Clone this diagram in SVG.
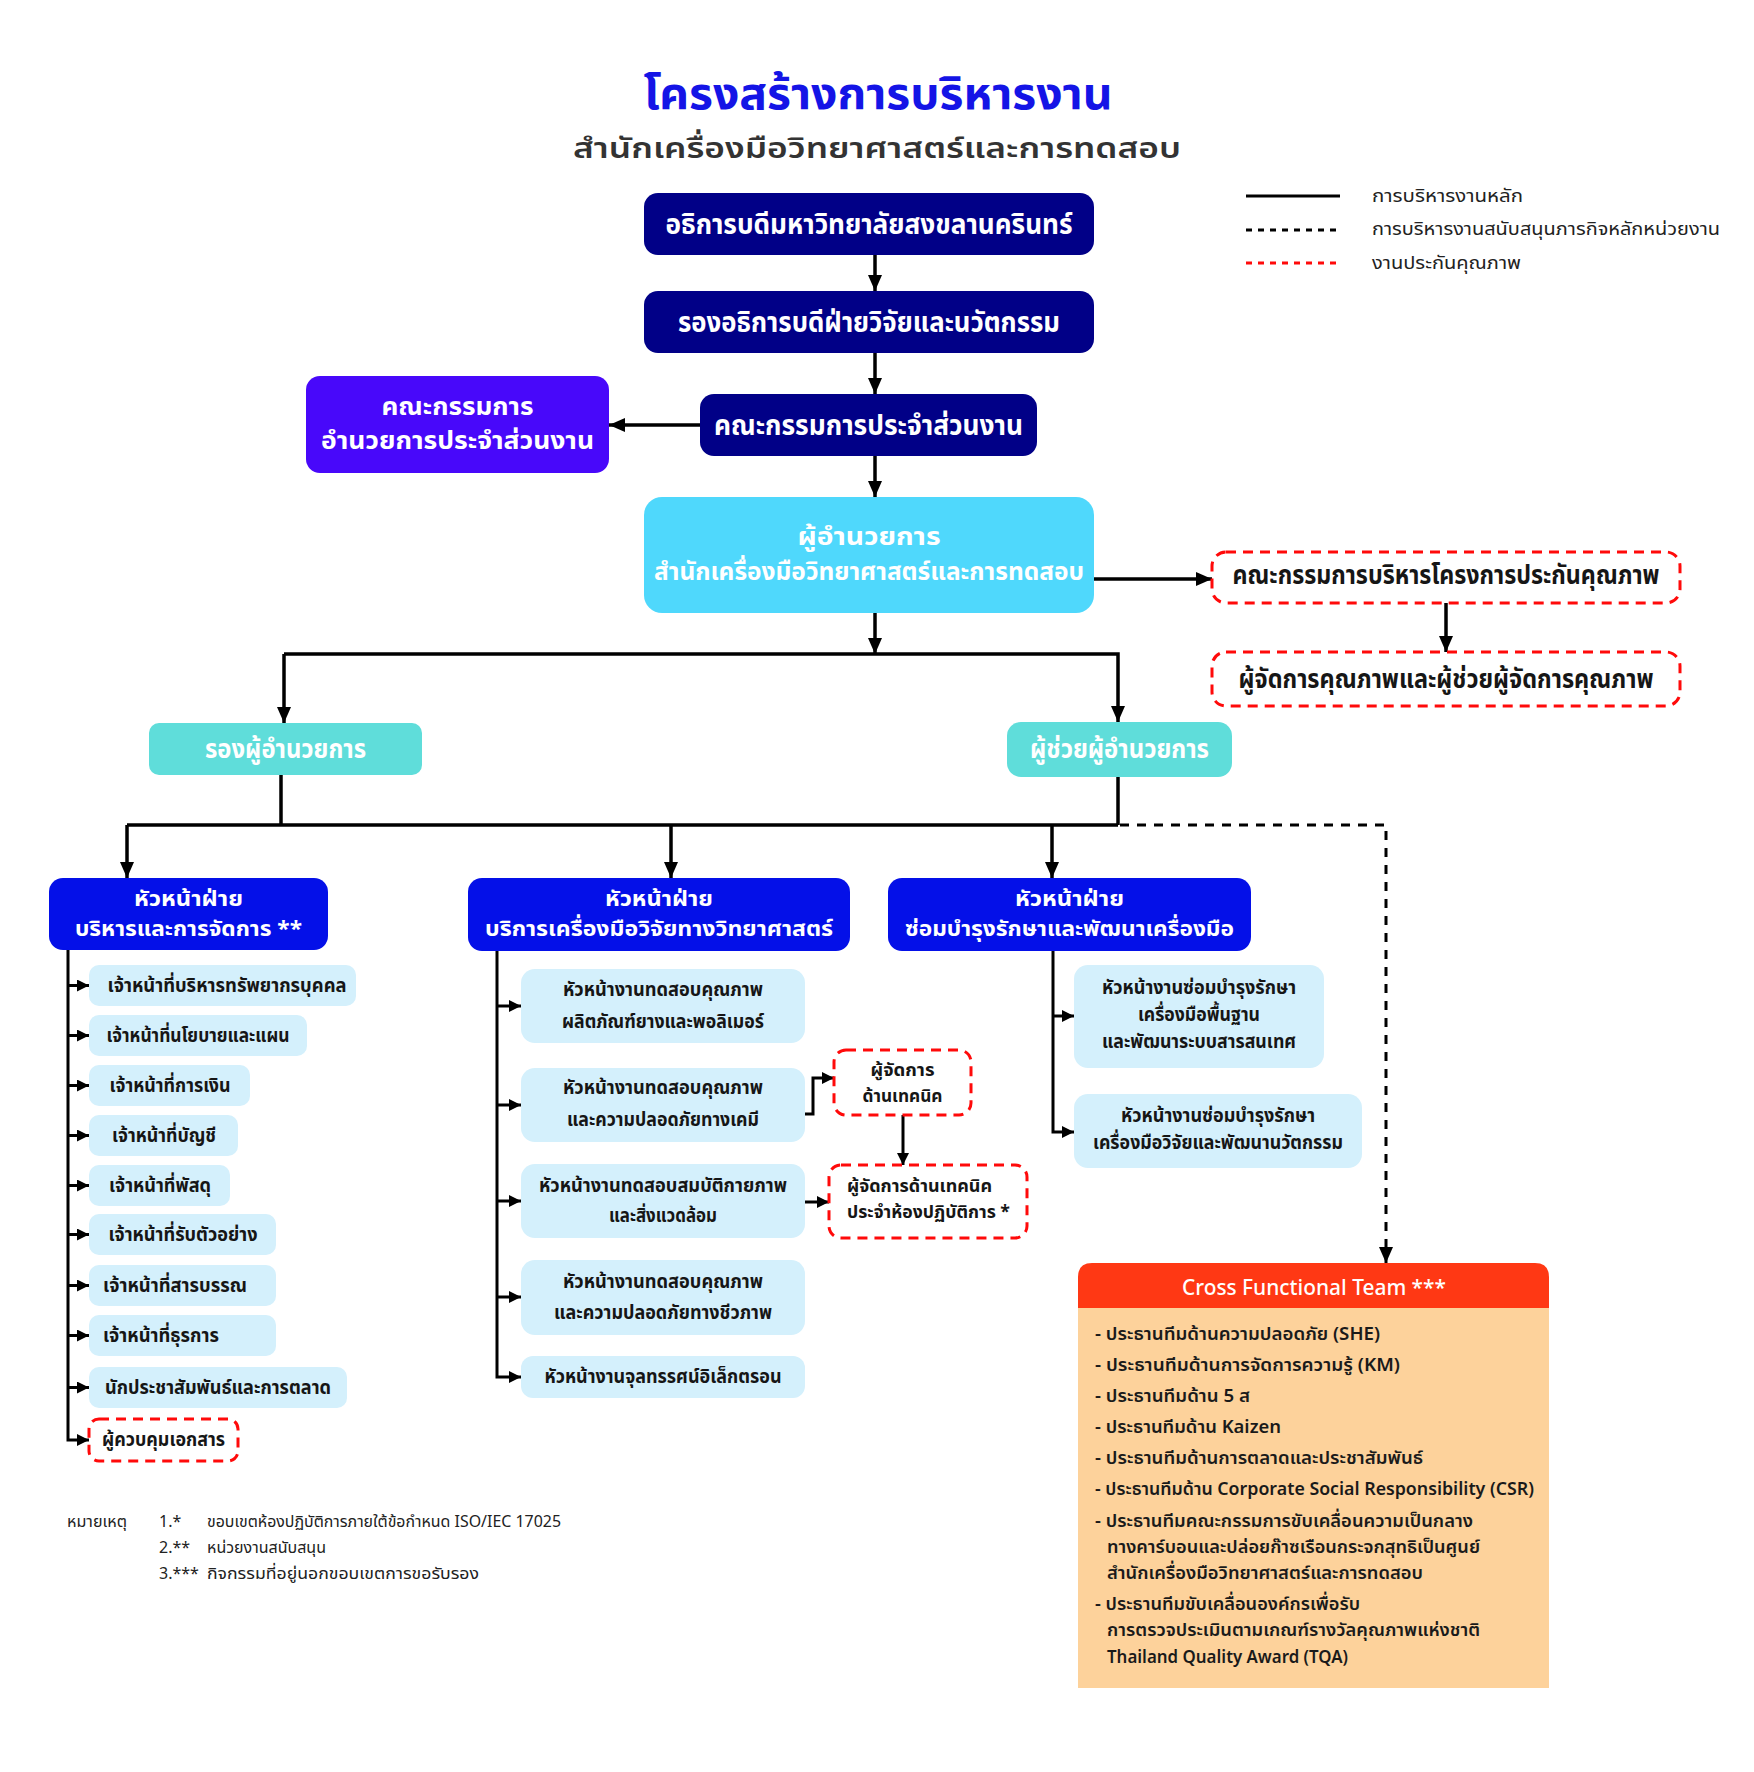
<svg xmlns="http://www.w3.org/2000/svg" width="1754" height="1772" viewBox="0 0 1754 1772">
<style>
text{font-family:"Noto Sans Thai","Noto Sans Thai Looped","Noto Sans","Liberation Sans",sans-serif;}
.c{text-anchor:middle}
.w{fill:#ffffff;font-weight:700}
.k{fill:#161616;font-weight:700}
.navy{fill:#010087}
.blue{fill:#0410E8}
.teal{fill:#5FDDDA}
.lb{fill:#D4F0FC}
.red{fill:#ffffff;stroke:#FF0A0A;stroke-width:3;stroke-dasharray:10 7}
.ln{fill:none;stroke:#000;stroke-width:3.5}
.ls{fill:none;stroke:#000;stroke-width:3}
.dash{fill:none;stroke:#000;stroke-width:3;stroke-dasharray:9 8}
.f28{font-size:28px}
.f24{font-size:24px}
.f21{font-size:21px}
.f19{font-size:19px}
.f18{font-size:18px}
.f16{font-size:16px}
</style>
<defs>
<marker id="a" viewBox="0 0 16 14" refX="16" refY="7" markerWidth="16" markerHeight="14" markerUnits="userSpaceOnUse" orient="auto"><path d="M0,0 L16,7 L0,14 z" fill="#000"/></marker>
<marker id="s" viewBox="0 0 12 12" refX="12" refY="6" markerWidth="12" markerHeight="12" markerUnits="userSpaceOnUse" orient="auto"><path d="M0,0 L12,6 L0,12 z" fill="#000"/></marker>
</defs>
<rect width="1754" height="1772" fill="#ffffff"/>

<g id="title">
<text x="878" y="109" class="c" font-size="44" font-weight="700" fill="#1414E6" textLength="469" lengthAdjust="spacingAndGlyphs">โครงสร้างการบริหารงาน</text>
<text x="877" y="158" class="c" font-size="28" font-weight="600" fill="#333333" textLength="608" lengthAdjust="spacingAndGlyphs">สำนักเครื่องมือวิทยาศาสตร์และการทดสอบ</text>
</g>

<g id="legend">
<line x1="1246" y1="196" x2="1340" y2="196" stroke="#000" stroke-width="3"/>
<line x1="1246" y1="230" x2="1340" y2="230" stroke="#000" stroke-width="3" stroke-dasharray="6 6"/>
<line x1="1246" y1="263" x2="1340" y2="263" stroke="#FF0A0A" stroke-width="3" stroke-dasharray="6 6"/>
<text x="1372" y="202" class="f18" fill="#222" textLength="151" lengthAdjust="spacingAndGlyphs">การบริหารงานหลัก</text>
<text x="1372" y="235" class="f18" fill="#222" textLength="348" lengthAdjust="spacingAndGlyphs">การบริหารงานสนับสนุนภารกิจหลักหน่วยงาน</text>
<text x="1372" y="269" class="f18" fill="#222" textLength="149" lengthAdjust="spacingAndGlyphs">งานประกันคุณภาพ</text>
</g>

<g id="connectors">
<path class="ln" d="M875,255 V291" marker-end="url(#a)"/>
<path class="ln" d="M875,353 V394" marker-end="url(#a)"/>
<path class="ln" d="M700,425 H609" marker-end="url(#a)"/>
<path class="ln" d="M875,456 V497" marker-end="url(#a)"/>
<path class="ln" d="M1094,579 H1212" marker-end="url(#a)"/>
<path class="ln" d="M1446,603 V652" marker-end="url(#a)"/>
<path class="ln" d="M875,613 V654" marker-end="url(#a)"/>
<path class="ln" d="M284,654 H1118 V722" marker-end="url(#a)"/>
<path class="ln" d="M284,654 V723" marker-end="url(#a)"/>
<path class="ln" d="M281,775 V825"/>
<path class="ln" d="M1118,777 V825"/>
<path class="ln" d="M127,825 H1118"/>
<path class="ln" d="M127,825 V878" marker-end="url(#a)"/>
<path class="ln" d="M671,825 V878" marker-end="url(#a)"/>
<path class="ln" d="M1052,825 V878" marker-end="url(#a)"/>
<path class="dash" d="M1120,825 H1386 V1263" marker-end="url(#a)"/>
<!-- left column -->
<path class="ls" d="M68,950 V1440 H89" marker-end="url(#s)"/>
<path class="ls" d="M68,985.5 H89" marker-end="url(#s)"/>
<path class="ls" d="M68,1035.5 H89" marker-end="url(#s)"/>
<path class="ls" d="M68,1085.5 H89" marker-end="url(#s)"/>
<path class="ls" d="M68,1135.5 H89" marker-end="url(#s)"/>
<path class="ls" d="M68,1185.5 H89" marker-end="url(#s)"/>
<path class="ls" d="M68,1234.5 H89" marker-end="url(#s)"/>
<path class="ls" d="M68,1285.5 H89" marker-end="url(#s)"/>
<path class="ls" d="M68,1335.5 H89" marker-end="url(#s)"/>
<path class="ls" d="M68,1387.5 H89" marker-end="url(#s)"/>
<!-- middle column -->
<path class="ls" d="M497,951 V1377 H521" marker-end="url(#s)"/>
<path class="ls" d="M497,1006 H521" marker-end="url(#s)"/>
<path class="ls" d="M497,1105 H521" marker-end="url(#s)"/>
<path class="ls" d="M497,1201 H521" marker-end="url(#s)"/>
<path class="ls" d="M497,1297 H521" marker-end="url(#s)"/>
<path class="ls" d="M805,1114 H813 V1078 H834" marker-end="url(#s)"/>
<path class="ls" d="M903,1115 V1165" marker-end="url(#s)"/>
<path class="ls" d="M805,1202 H829" marker-end="url(#s)"/>
<!-- right column -->
<path class="ls" d="M1053,951 V1132 H1074" marker-end="url(#s)"/>
<path class="ls" d="M1053,1016 H1074" marker-end="url(#s)"/>
</g>

<g id="n-president">
<rect x="644" y="193" width="450" height="62" rx="14" class="navy"/>
<text x="869" y="234" class="c w f28" textLength="407" lengthAdjust="spacingAndGlyphs">อธิการบดีมหาวิทยาลัยสงขลานครินทร์</text>
</g>
<g id="n-vp">
<rect x="644" y="291" width="450" height="62" rx="14" class="navy"/>
<text x="869" y="332" class="c w f28" textLength="382" lengthAdjust="spacingAndGlyphs">รองอธิการบดีฝ่ายวิจัยและนวัตกรรม</text>
</g>
<g id="n-board">
<rect x="700" y="394" width="337" height="62" rx="14" class="navy"/>
<text x="868.5" y="435" class="c w f28" textLength="309" lengthAdjust="spacingAndGlyphs">คณะกรรมการประจำส่วนงาน</text>
</g>
<g id="n-exec-board">
<rect x="306" y="376" width="303" height="97" rx="14" fill="#4808FA"/>
<text x="457.5" y="415" class="c w f24" textLength="152" lengthAdjust="spacingAndGlyphs">คณะกรรมการ</text>
<text x="457.5" y="449" class="c w f24" textLength="273" lengthAdjust="spacingAndGlyphs">อำนวยการประจำส่วนงาน</text>
</g>
<g id="n-director">
<rect x="644" y="497" width="450" height="116" rx="18" fill="#4FD8FC"/>
<text x="869" y="545" class="c w f24" textLength="143" lengthAdjust="spacingAndGlyphs">ผู้อำนวยการ</text>
<text x="869" y="580" class="c w f24" textLength="430" lengthAdjust="spacingAndGlyphs">สำนักเครื่องมือวิทยาศาสตร์และการทดสอบ</text>
</g>
<g id="n-qa-board">
<rect x="1212" y="552" width="468" height="51" rx="14" class="red"/>
<text x="1446" y="584" class="c k" font-size="26" textLength="427" lengthAdjust="spacingAndGlyphs">คณะกรรมการบริหารโครงการประกันคุณภาพ</text>
</g>
<g id="n-qa-manager">
<rect x="1212" y="652" width="468" height="54" rx="14" class="red"/>
<text x="1446" y="688" class="c k" font-size="26" textLength="415" lengthAdjust="spacingAndGlyphs">ผู้จัดการคุณภาพและผู้ช่วยผู้จัดการคุณภาพ</text>
</g>
<g id="n-deputy">
<rect x="149" y="723" width="273" height="52" rx="10" class="teal"/>
<text x="285.5" y="758" class="c w" font-size="26" textLength="161" lengthAdjust="spacingAndGlyphs">รองผู้อำนวยการ</text>
</g>
<g id="n-assistant">
<rect x="1007" y="722" width="225" height="55" rx="14" class="teal"/>
<text x="1119.5" y="758" class="c w" font-size="26" textLength="179" lengthAdjust="spacingAndGlyphs">ผู้ช่วยผู้อำนวยการ</text>
</g>

<g id="n-head-admin">
<rect x="49" y="878" width="279" height="72" rx="14" class="blue"/>
<text x="188.5" y="906" class="c w f21" textLength="109" lengthAdjust="spacingAndGlyphs">หัวหน้าฝ่าย</text>
<text x="188.5" y="936" class="c w f21" textLength="227" lengthAdjust="spacingAndGlyphs">บริหารและการจัดการ **</text>
</g>
<g id="n-head-service">
<rect x="468" y="878" width="382" height="73" rx="14" class="blue"/>
<text x="659" y="906" class="c w f21" textLength="108" lengthAdjust="spacingAndGlyphs">หัวหน้าฝ่าย</text>
<text x="659" y="936" class="c w f21" textLength="348" lengthAdjust="spacingAndGlyphs">บริการเครื่องมือวิจัยทางวิทยาศาสตร์</text>
</g>
<g id="n-head-maint">
<rect x="888" y="878" width="363" height="73" rx="14" class="blue"/>
<text x="1069.5" y="906" class="c w f21" textLength="109" lengthAdjust="spacingAndGlyphs">หัวหน้าฝ่าย</text>
<text x="1069.5" y="936" class="c w f21" textLength="329" lengthAdjust="spacingAndGlyphs">ซ่อมบำรุงรักษาและพัฒนาเครื่องมือ</text>
</g>

<g id="n-l1"><rect x="89" y="965" width="267" height="41" rx="10" class="lb"/><text x="227" y="992" class="c k f19" textLength="239" lengthAdjust="spacingAndGlyphs">เจ้าหน้าที่บริหารทรัพยากรบุคคล</text></g>
<g id="n-l2"><rect x="89" y="1015" width="218" height="41" rx="10" class="lb"/><text x="198" y="1042" class="c k f19" textLength="183" lengthAdjust="spacingAndGlyphs">เจ้าหน้าที่นโยบายและแผน</text></g>
<g id="n-l3"><rect x="89" y="1065" width="161" height="41" rx="10" class="lb"/><text x="170" y="1092" class="c k f19" textLength="121" lengthAdjust="spacingAndGlyphs">เจ้าหน้าที่การเงิน</text></g>
<g id="n-l4"><rect x="89" y="1115" width="149" height="41" rx="10" class="lb"/><text x="164" y="1142" class="c k f19" textLength="104" lengthAdjust="spacingAndGlyphs">เจ้าหน้าที่บัญชี</text></g>
<g id="n-l5"><rect x="89" y="1165" width="141" height="41" rx="10" class="lb"/><text x="160" y="1192" class="c k f19" textLength="102" lengthAdjust="spacingAndGlyphs">เจ้าหน้าที่พัสดุ</text></g>
<g id="n-l6"><rect x="89" y="1214" width="187" height="41" rx="10" class="lb"/><text x="183" y="1241" class="c k f19" textLength="149" lengthAdjust="spacingAndGlyphs">เจ้าหน้าที่รับตัวอย่าง</text></g>
<g id="n-l7"><rect x="89" y="1265" width="187" height="41" rx="10" class="lb"/><text x="175" y="1292" class="c k f19" textLength="144" lengthAdjust="spacingAndGlyphs">เจ้าหน้าที่สารบรรณ</text></g>
<g id="n-l8"><rect x="89" y="1315" width="187" height="41" rx="10" class="lb"/><text x="161" y="1342" class="c k f19" textLength="116" lengthAdjust="spacingAndGlyphs">เจ้าหน้าที่ธุรการ</text></g>
<g id="n-l9"><rect x="89" y="1367" width="258" height="41" rx="10" class="lb"/><text x="218" y="1394" class="c k f19" textLength="226" lengthAdjust="spacingAndGlyphs">นักประชาสัมพันธ์และการตลาด</text></g>
<g id="n-l10"><rect x="89" y="1419" width="149" height="42" rx="10" class="red"/><text x="163.5" y="1446" class="c k f19" textLength="123" lengthAdjust="spacingAndGlyphs">ผู้ควบคุมเอกสาร</text></g>

<g id="n-m1"><rect x="521" y="969" width="284" height="74" rx="14" class="lb"/>
<text x="663" y="996" class="c k f19" textLength="200" lengthAdjust="spacingAndGlyphs">หัวหน้างานทดสอบคุณภาพ</text>
<text x="663" y="1028" class="c k f19" textLength="202" lengthAdjust="spacingAndGlyphs">ผลิตภัณฑ์ยางและพอลิเมอร์</text></g>
<g id="n-m2"><rect x="521" y="1068" width="284" height="74" rx="14" class="lb"/>
<text x="663" y="1094" class="c k f19" textLength="200" lengthAdjust="spacingAndGlyphs">หัวหน้างานทดสอบคุณภาพ</text>
<text x="663" y="1126" class="c k f19" textLength="192" lengthAdjust="spacingAndGlyphs">และความปลอดภัยทางเคมี</text></g>
<g id="n-m3"><rect x="521" y="1164" width="284" height="74" rx="14" class="lb"/>
<text x="663" y="1192" class="c k f19" textLength="248" lengthAdjust="spacingAndGlyphs">หัวหน้างานทดสอบสมบัติกายภาพ</text>
<text x="663" y="1222" class="c k f19" textLength="108" lengthAdjust="spacingAndGlyphs">และสิ่งแวดล้อม</text></g>
<g id="n-m4"><rect x="521" y="1260" width="284" height="75" rx="14" class="lb"/>
<text x="663" y="1288" class="c k f19" textLength="200" lengthAdjust="spacingAndGlyphs">หัวหน้างานทดสอบคุณภาพ</text>
<text x="663" y="1319" class="c k f19" textLength="218" lengthAdjust="spacingAndGlyphs">และความปลอดภัยทางชีวภาพ</text></g>
<g id="n-m5"><rect x="521" y="1356" width="284" height="42" rx="12" class="lb"/>
<text x="663" y="1383" class="c k f19" textLength="237" lengthAdjust="spacingAndGlyphs">หัวหน้างานจุลทรรศน์อิเล็กตรอน</text></g>

<g id="n-tech-mgr"><rect x="834" y="1050" width="137" height="65" rx="12" class="red"/>
<text x="902.5" y="1076" class="c k f18" textLength="64" lengthAdjust="spacingAndGlyphs">ผู้จัดการ</text>
<text x="902.5" y="1102" class="c k f18" textLength="80" lengthAdjust="spacingAndGlyphs">ด้านเทคนิค</text></g>
<g id="n-lab-tech-mgr"><rect x="829" y="1165" width="198" height="73" rx="12" class="red"/>
<text x="847" y="1192" class="k f18" textLength="145" lengthAdjust="spacingAndGlyphs">ผู้จัดการด้านเทคนิค</text>
<text x="847" y="1218" class="k f18" textLength="163" lengthAdjust="spacingAndGlyphs">ประจำห้องปฏิบัติการ *</text></g>

<g id="n-r1"><rect x="1074" y="965" width="250" height="103" rx="14" class="lb"/>
<text x="1199" y="994" class="c k f19" textLength="194" lengthAdjust="spacingAndGlyphs">หัวหน้างานซ่อมบำรุงรักษา</text>
<text x="1199" y="1021" class="c k f19" textLength="122" lengthAdjust="spacingAndGlyphs">เครื่องมือพื้นฐาน</text>
<text x="1199" y="1048" class="c k f19" textLength="194" lengthAdjust="spacingAndGlyphs">และพัฒนาระบบสารสนเทศ</text></g>
<g id="n-r2"><rect x="1074" y="1094" width="288" height="74" rx="14" class="lb"/>
<text x="1218" y="1122" class="c k f19" textLength="194" lengthAdjust="spacingAndGlyphs">หัวหน้างานซ่อมบำรุงรักษา</text>
<text x="1218" y="1149" class="c k f19" textLength="250" lengthAdjust="spacingAndGlyphs">เครื่องมือวิจัยและพัฒนานวัตกรรม</text></g>

<g id="n-cft">
<path d="M1078,1308 V1277 Q1078,1263 1092,1263 H1535 Q1549,1263 1549,1277 V1308 Z" fill="#FF3814"/>
<rect x="1078" y="1308" width="471" height="380" fill="#FDD29B"/>
<text x="1314" y="1295" class="c" font-size="22" font-weight="500" fill="#ffffff" textLength="264" lengthAdjust="spacingAndGlyphs">Cross Functional Team ***</text>
<g fill="#1a1a1a" font-size="18" font-weight="600">
<text x="1095" y="1340" textLength="285" lengthAdjust="spacingAndGlyphs">- ประธานทีมด้านความปลอดภัย (SHE)</text>
<text x="1095" y="1371" textLength="305" lengthAdjust="spacingAndGlyphs">- ประธานทีมด้านการจัดการความรู้ (KM)</text>
<text x="1095" y="1402" textLength="155" lengthAdjust="spacingAndGlyphs">- ประธานทีมด้าน 5 ส</text>
<text x="1095" y="1433" textLength="186" lengthAdjust="spacingAndGlyphs">- ประธานทีมด้าน Kaizen</text>
<text x="1095" y="1464" textLength="328" lengthAdjust="spacingAndGlyphs">- ประธานทีมด้านการตลาดและประชาสัมพันธ์</text>
<text x="1095" y="1495" textLength="439" lengthAdjust="spacingAndGlyphs">- ประธานทีมด้าน Corporate Social Responsibility (CSR)</text>
<text x="1095" y="1527" textLength="378" lengthAdjust="spacingAndGlyphs">- ประธานทีมคณะกรรมการขับเคลื่อนความเป็นกลาง</text>
<text x="1107" y="1553" textLength="373" lengthAdjust="spacingAndGlyphs">ทางคาร์บอนและปล่อยก๊าซเรือนกระจกสุทธิเป็นศูนย์</text>
<text x="1107" y="1579" textLength="316" lengthAdjust="spacingAndGlyphs">สำนักเครื่องมือวิทยาศาสตร์และการทดสอบ</text>
<text x="1095" y="1610" textLength="265" lengthAdjust="spacingAndGlyphs">- ประธานทีมขับเคลื่อนองค์กรเพื่อรับ</text>
<text x="1107" y="1636" textLength="373" lengthAdjust="spacingAndGlyphs">การตรวจประเมินตามเกณฑ์รางวัลคุณภาพแห่งชาติ</text>
<text x="1107" y="1663" textLength="241" lengthAdjust="spacingAndGlyphs">Thailand Quality Award (TQA)</text>
</g>
</g>

<g id="notes" fill="#222" font-size="16">
<text x="67" y="1527" textLength="60" lengthAdjust="spacingAndGlyphs">หมายเหตุ</text>
<text x="159" y="1527">1.*</text>
<text x="207" y="1527" textLength="354" lengthAdjust="spacingAndGlyphs">ขอบเขตห้องปฏิบัติการภายใต้ข้อกำหนด ISO/IEC 17025</text>
<text x="159" y="1553">2.**</text>
<text x="207" y="1553" textLength="119" lengthAdjust="spacingAndGlyphs">หน่วยงานสนับสนุน</text>
<text x="159" y="1579">3.***</text>
<text x="207" y="1579" textLength="272" lengthAdjust="spacingAndGlyphs">กิจกรรมที่อยู่นอกขอบเขตการขอรับรอง</text>
</g>
</svg>
